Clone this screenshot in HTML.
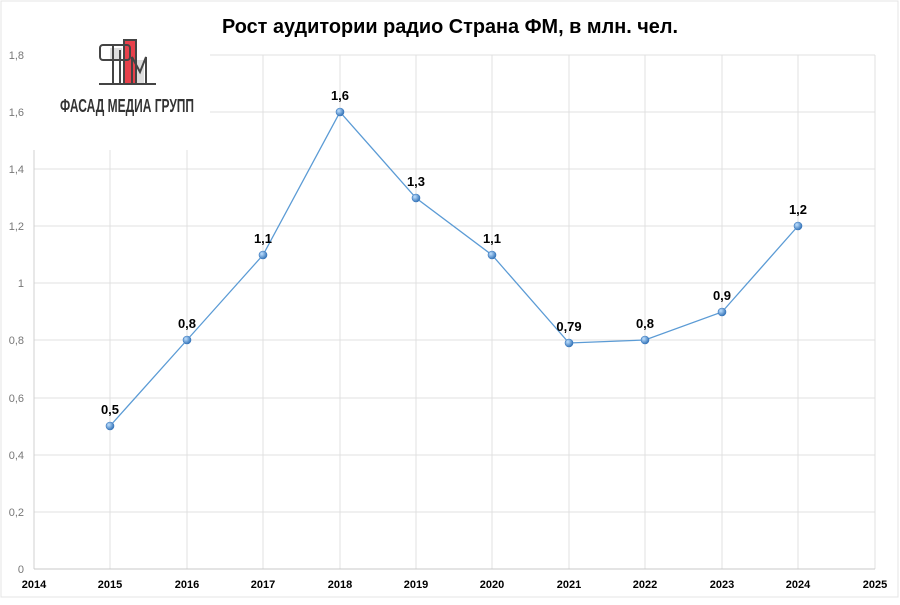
<!DOCTYPE html>
<html><head><meta charset="utf-8"><style>
body{margin:0;background:#fff;}
svg text{font-family:"Liberation Sans","DejaVu Sans",sans-serif;}
</style></head><body>
<svg width="900" height="600" viewBox="0 0 900 600" xmlns="http://www.w3.org/2000/svg">
<rect x="0" y="0" width="900" height="600" fill="#fff"/>
<rect x="1" y="1" width="897" height="596" fill="none" stroke="#e4e4e4" stroke-width="1"/>
<text x="450" y="33" text-anchor="middle" font-size="20" font-weight="bold" fill="#000" textLength="456" lengthAdjust="spacingAndGlyphs">Рост аудитории радио Страна ФМ, в млн. чел.</text>
<g stroke="#e0e0e0" stroke-width="1">
<line x1="34" y1="55" x2="875" y2="55"/><line x1="34" y1="112" x2="875" y2="112"/>
<line x1="34" y1="169" x2="875" y2="169"/><line x1="34" y1="226" x2="875" y2="226"/>
<line x1="34" y1="283" x2="875" y2="283"/><line x1="34" y1="340" x2="875" y2="340"/>
<line x1="34" y1="398" x2="875" y2="398"/><line x1="34" y1="455" x2="875" y2="455"/>
<line x1="34" y1="512" x2="875" y2="512"/>
<line x1="110" y1="55" x2="110" y2="569"/><line x1="187" y1="55" x2="187" y2="569"/>
<line x1="263" y1="55" x2="263" y2="569"/><line x1="340" y1="55" x2="340" y2="569"/>
<line x1="416" y1="55" x2="416" y2="569"/><line x1="492" y1="55" x2="492" y2="569"/>
<line x1="569" y1="55" x2="569" y2="569"/><line x1="645" y1="55" x2="645" y2="569"/>
<line x1="722" y1="55" x2="722" y2="569"/><line x1="798" y1="55" x2="798" y2="569"/>
<line x1="875" y1="55" x2="875" y2="569"/>
</g>
<line x1="34" y1="55" x2="34" y2="569" stroke="#d0d0d0"/>
<line x1="34" y1="569" x2="875" y2="569" stroke="#c8c8c8"/>
<rect x="30" y="36" width="180" height="114" fill="#fff"/>
<g transform="translate(0,30)">
<rect x="124" y="10" width="12" height="44" fill="#e8414b"/>
<rect x="110" y="18" width="12" height="12" fill="#ddd"/>
<rect x="136" y="30" width="8" height="24" fill="#ddd"/>
<g fill="none" stroke="#444" stroke-width="2">
<rect x="100" y="15" width="30" height="15" rx="3"/>
<line x1="113" y1="15" x2="113" y2="54"/><line x1="120" y1="20" x2="120" y2="54"/>
<polyline points="132,54 132,27 140,42 146,27 146,54"/>
<line x1="99" y1="54" x2="156" y2="54"/>
<rect x="124" y="10" width="12" height="44"/>
</g>
</g>
<text x="60" y="112" font-size="18" font-weight="bold" fill="#333" textLength="134" lengthAdjust="spacingAndGlyphs">ФАСАД МЕДИА ГРУПП</text>
<g font-size="11" fill="#777" text-anchor="end">
<text x="24" y="59">1,8</text><text x="24" y="116">1,6</text><text x="24" y="173">1,4</text>
<text x="24" y="230">1,2</text><text x="24" y="287">1</text><text x="24" y="344">0,8</text>
<text x="24" y="402">0,6</text><text x="24" y="459">0,4</text><text x="24" y="516">0,2</text>
<text x="24" y="573">0</text>
</g>
<g font-size="11" font-weight="bold" fill="#000" text-anchor="middle">
<text x="34" y="588">2014</text><text x="110" y="588">2015</text><text x="187" y="588">2016</text>
<text x="263" y="588">2017</text><text x="340" y="588">2018</text><text x="416" y="588">2019</text>
<text x="492" y="588">2020</text><text x="569" y="588">2021</text><text x="645" y="588">2022</text>
<text x="722" y="588">2023</text><text x="798" y="588">2024</text><text x="875" y="588">2025</text>
</g>
<polyline fill="none" stroke="#5b9bd5" stroke-width="1.3" points="110,426 187,340 263,255 340,112 416,198 492,255 569,343 645,340 722,312 798,226"/>
<defs><radialGradient id="g" cx="0.35" cy="0.35" r="0.7"><stop offset="0" stop-color="#bfe0ff"/><stop offset="1" stop-color="#2e6fb5"/></radialGradient></defs>
<g fill="url(#g)" stroke="#3a78bd" stroke-width="0.6">
<circle cx="110" cy="426" r="4"/><circle cx="187" cy="340" r="4"/><circle cx="263" cy="255" r="4"/>
<circle cx="340" cy="112" r="4"/><circle cx="416" cy="198" r="4"/><circle cx="492" cy="255" r="4"/>
<circle cx="569" cy="343" r="4"/><circle cx="645" cy="340" r="4"/><circle cx="722" cy="312" r="4"/>
<circle cx="798" cy="226" r="4"/>
</g>
<g font-size="13" font-weight="bold" fill="#000" text-anchor="middle">
<text x="110" y="414">0,5</text><text x="187" y="328">0,8</text><text x="263" y="243">1,1</text>
<text x="340" y="100">1,6</text><text x="416" y="186">1,3</text><text x="492" y="243">1,1</text>
<text x="569" y="331">0,79</text><text x="645" y="328">0,8</text><text x="722" y="300">0,9</text>
<text x="798" y="214">1,2</text>
</g>
</svg>
</body></html>
